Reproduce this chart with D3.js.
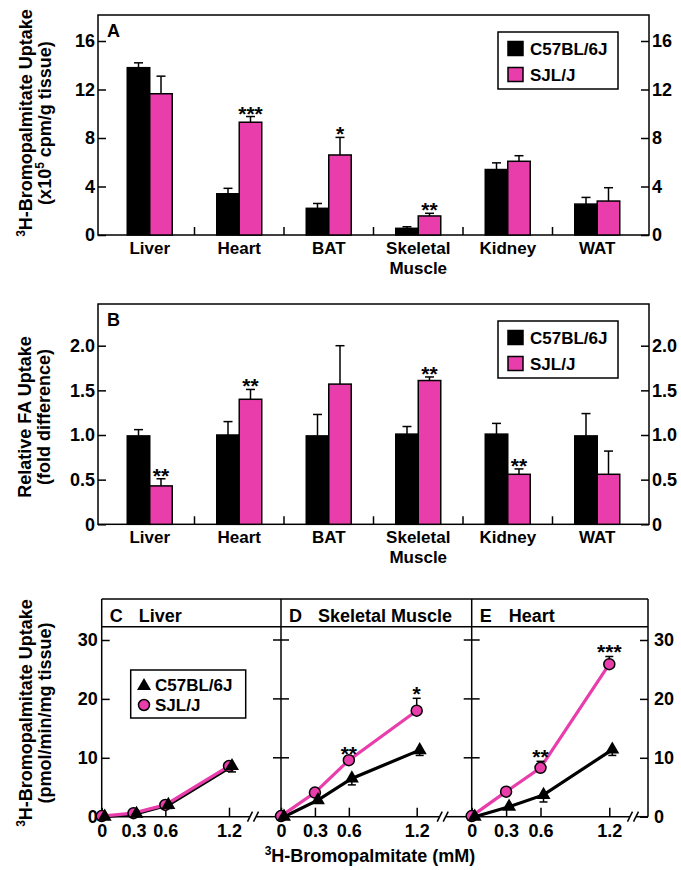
<!DOCTYPE html>
<html>
<head>
<meta charset="utf-8">
<script src="https://cdn.jsdelivr.net/npm/d3@7"></script>
<style>
  body { margin: 0; background: #fff; }
  svg text { font-family: "Liberation Sans", Arial, sans-serif; font-weight: bold; }
</style>
</head>
<body>
<div id="chart"></div>
<script>
// Data
const tissues = ["Liver", "Heart", "BAT", "Skeletal Muscle", "Kidney", "WAT"];
const strains = ["C57BL/6J", "SJL/J"];

// panel A: 3H-bromopalmitate uptake (x10^5 cpm/g tissue)
const uptakeB6 = [13.8, 3.4, 2.2, 0.55, 5.4, 2.55];
const uptakeB6Err = [0.4, 0.45, 0.4, 0.13, 0.55, 0.55];
const uptakeSJL = [11.65, 9.3, 6.6, 1.57, 6.08, 2.8];
const uptakeSJLErr = [1.45, 0.47, 1.45, 0.22, 0.46, 1.1];
const uptakeSig = ["", "***", "*", "**", "", ""];
const uptakeTicks = [0, 4, 8, 12, 16];

// panel B: relative FA uptake (fold difference)
const relB6 = [0.99, 1.0, 0.99, 1.01, 1.01, 0.99];
const relB6Err = [0.07, 0.15, 0.24, 0.085, 0.12, 0.25];
const relSJL = [0.43, 1.4, 1.57, 1.61, 0.56, 0.56];
const relSJLErr = [0.08, 0.11, 0.43, 0.04, 0.06, 0.26];
const relSig = ["**", "**", "", "**", "**", ""];
const relTicks = [0, 0.5, 1.0, 1.5, 2.0];

// panels C-E: dose response (pmol/min/mg tissue)
const doses = [0, 0.3, 0.6, 1.2];
const doseTissues = ["Liver", "Skeletal Muscle", "Heart"];
const doseLetters = ["C", "D", "E"];
const doseB6 = [[0, 0.5, 2.0, 8.6], [0, 2.8, 6.5, 11.3], [0, 1.7, 3.7, 11.4]];
const doseB6Err = [[0, 0.2, 0.6, 1.0], [0, 0.4, 1.1, 0.9], [0, 0.3, 1.2, 1.0]];
const doseSJL = [[0.1, 0.6, 2.0, 8.6], [0.1, 4.1, 9.6, 18.0], [0.1, 4.25, 8.3, 25.9]];
const doseSJLErr = [[0, 0.2, 0.5, 0.6], [0, 0.3, 0.4, 2.1], [0, 0.3, 1.1, 1.3]];
const doseSig = [["", "", "", ""], ["", "", "**", "*"], ["", "", "**", "***"]];
const doseTicks = [0, 10, 20, 30];

const PINK = "#e93dac";
const LW = 1.5;
const STAR = 21;

const svg = d3.select("#chart").append("svg")
  .attr("width", 681)
  .attr("height", 870);

// rotated two line y title, parts can be superscripts
function yTitle(cy, x1, x2, line1, line2) {
  [[x1, line1], [x2, line2]].forEach(([x, parts]) => {
    const t = svg.append("text")
      .attr("transform", `translate(${x},${cy}) rotate(-90)`)
      .attr("text-anchor", "middle")
      .attr("font-size", 18);
    let shift = 0;
    parts.forEach(p => {
      if (p.sup) {
        t.append("tspan").attr("font-size", 12).attr("dy", -7 - shift).text(p.sup);
        shift = -7;
      } else {
        t.append("tspan").attr("dy", -shift).text(p.t);
        shift = 0;
      }
    });
  });
}

function legendBars(bx, by) {
  svg.append("rect")
    .attr("x", bx).attr("y", by).attr("width", 120).attr("height", 57)
    .attr("fill", "#fff").attr("stroke", "#000").attr("stroke-width", LW);
  strains.forEach((s, i) => {
    svg.append("rect")
      .attr("x", bx + 10).attr("y", by + 9.5 + i * 26).attr("width", 15).attr("height", 14)
      .attr("fill", i ? PINK : "#000").attr("stroke", "#000").attr("stroke-width", LW);
    svg.append("text")
      .attr("x", bx + 32).attr("y", by + 23 + i * 26)
      .attr("font-size", 17).text(s);
  });
}

function barPanel(cfg) {
  const { top, bottom, tickTop, ticks, fmt, b6, b6Err, sjl, sjlErr, sig, letter } = cfg;
  const left = 98, right = 649;

  const x = d3.scaleBand().domain(tissues).range([105, 642]);
  const y = d3.scaleLinear().domain([0, d3.max(ticks)]).range([bottom, tickTop]);
  const bw = 22.5;

  // left / right axes, ticks pointing in
  const gl = svg.append("g").attr("transform", `translate(${left},0)`)
    .call(d3.axisLeft(y).tickValues(ticks).tickFormat(fmt).tickSizeInner(-8).tickSizeOuter(0))
    .attr("font-size", 18);
  const gr = svg.append("g").attr("transform", `translate(${right},0)`)
    .call(d3.axisRight(y).tickValues(ticks).tickFormat(fmt).tickSizeInner(-8).tickSizeOuter(0))
    .attr("font-size", 18);
  [gl, gr].forEach(g => {
    g.select(".domain").remove();
    g.selectAll("line").attr("stroke-width", LW);
  });

  // frame
  svg.append("rect")
    .attr("x", left).attr("y", top).attr("width", right - left).attr("height", bottom - top)
    .attr("fill", "none").attr("stroke", "#000").attr("stroke-width", LW);

  // separators between groups
  svg.selectAll(null).data(tissues.slice(1)).join("line")
    .attr("x1", d => x(d)).attr("x2", d => x(d))
    .attr("y1", bottom).attr("y2", bottom - 8)
    .attr("stroke", "#000").attr("stroke-width", LW);

  // category labels
  tissues.forEach(t => {
    const lines = t.split(" ");
    const txt = svg.append("text")
      .attr("text-anchor", "middle").attr("font-size", 17);
    lines.forEach((l, i) => {
      txt.append("tspan")
        .attr("x", x(t) + x.bandwidth() / 2)
        .attr("y", bottom + 19 + i * 19.5)
        .text(l);
    });
  });

  const rows = tissues.map((t, i) => ({ t, b6: b6[i], b6e: b6Err[i], sjl: sjl[i], sjle: sjlErr[i], sig: sig[i] }));
  const cx = d => x(d.t) + x.bandwidth() / 2;

  // error bars (up only)
  const err = [
    { v: d => d.b6, e: d => d.b6e, dx: -bw / 2 },
    { v: d => d.sjl, e: d => d.sjle, dx: bw / 2 }
  ];
  err.forEach(s => {
    svg.selectAll(null).data(rows).join("line")
      .attr("x1", d => cx(d) + s.dx).attr("x2", d => cx(d) + s.dx)
      .attr("y1", d => y(s.v(d))).attr("y2", d => y(s.v(d) + s.e(d)))
      .attr("stroke", "#000").attr("stroke-width", LW);
    svg.selectAll(null).data(rows).join("line")
      .attr("x1", d => cx(d) + s.dx - 4.5).attr("x2", d => cx(d) + s.dx + 4.5)
      .attr("y1", d => y(s.v(d) + s.e(d))).attr("y2", d => y(s.v(d) + s.e(d)))
      .attr("stroke", "#000").attr("stroke-width", LW);
  });

  svg.selectAll(null).data(rows).join("rect")
    .attr("x", d => cx(d) - bw).attr("y", d => y(d.b6))
    .attr("width", bw).attr("height", d => bottom - y(d.b6))
    .attr("fill", "#000").attr("stroke", "#000").attr("stroke-width", LW);
  svg.selectAll(null).data(rows).join("rect")
    .attr("x", d => cx(d)).attr("y", d => y(d.sjl))
    .attr("width", bw).attr("height", d => bottom - y(d.sjl))
    .attr("fill", PINK).attr("stroke", "#000").attr("stroke-width", LW);

  svg.selectAll(null).data(rows.filter(d => d.sig)).join("text")
    .attr("x", d => cx(d) + bw / 2).attr("y", d => y(d.sjl + d.sjle) + 4)
    .attr("text-anchor", "middle").attr("font-size", STAR)
    .text(d => d.sig);

  svg.append("text").attr("x", 107).attr("y", top + 22).attr("font-size", 18).text(letter);
  legendBars(498, top + 17);
}

// Panel A
barPanel({
  top: 15, bottom: 235, tickTop: 41, ticks: uptakeTicks, fmt: d3.format("d"),
  b6: uptakeB6, b6Err: uptakeB6Err, sjl: uptakeSJL, sjlErr: uptakeSJLErr, sig: uptakeSig, letter: "A"
});
yTitle(123, 32, 51,
  [{ sup: "3" }, { t: "H-Bromopalmitate Uptake" }],
  [{ t: "(x10" }, { sup: "5" }, { t: " cpm/g tissue)" }]);

// Panel B
barPanel({
  top: 304, bottom: 524.3, tickTop: 345.7, ticks: relTicks, fmt: d => d === 0 ? "0" : d3.format(".1f")(d),
  b6: relB6, b6Err: relB6Err, sjl: relSJL, sjlErr: relSJLErr, sig: relSig, letter: "B"
});
yTitle(417, 31, 50,
  [{ t: "Relative FA Uptake" }],
  [{ t: "(fold difference)" }]);

// Panels C-E
const top3 = 599, head3 = 626.7, bottom3 = 816.7;
const y3 = d3.scaleLinear().domain([0, 30]).range([bottom3, 640]);
const panelBox = [[101.7, 281, 229, 253], [281, 471.7, 416.7, 442.7], [471.7, 648, 609.3, 633]];

svg.append("line").attr("x1", 101.7).attr("x2", 648).attr("y1", top3).attr("y2", top3)
  .attr("stroke", "#000").attr("stroke-width", LW);
svg.append("line").attr("x1", 101.7).attr("x2", 648).attr("y1", head3).attr("y2", head3)
  .attr("stroke", "#000").attr("stroke-width", LW);

doseTissues.forEach((tissue, p) => {
  const [x0, x1, xEnd, brk] = panelBox[p];
  const x = d3.scaleLinear().domain([0, 1.2]).range([x0, xEnd]);

  // vertical border at left of each panel
  svg.append("line").attr("x1", x0).attr("x2", x0).attr("y1", top3).attr("y2", bottom3)
    .attr("stroke", "#000").attr("stroke-width", LW);

  // y ticks
  if (p === 0) {
    const g = svg.append("g").attr("transform", `translate(${x0},0)`)
      .call(d3.axisLeft(y3).tickValues(doseTicks).tickSizeInner(-8).tickSizeOuter(0).tickPadding(4))
      .attr("font-size", 18);
    g.select(".domain").remove();
    g.selectAll("line").attr("stroke-width", LW);
  } else {
    svg.selectAll(null).data(doseTicks.slice(1)).join("line")
      .attr("x1", x0 - 8).attr("x2", x0 + 8)
      .attr("y1", d => y3(d)).attr("y2", d => y3(d))
      .attr("stroke", "#000").attr("stroke-width", LW);
  }

  // x axis with break
  const gx = svg.append("g").attr("transform", `translate(0,${bottom3})`)
    .call(d3.axisBottom(x).tickValues(doses).tickFormat(d => d === 0 ? "0" : d3.format(".1f")(d))
      .tickSizeInner(-9).tickSizeOuter(0).tickPadding(8))
    .attr("font-size", 18);
  gx.select(".domain").remove();
  gx.selectAll("line").attr("stroke-width", LW);
  svg.append("line").attr("x1", x0).attr("x2", brk - 3).attr("y1", bottom3).attr("y2", bottom3)
    .attr("stroke", "#000").attr("stroke-width", LW);
  svg.append("line").attr("x1", brk + 3).attr("x2", x1).attr("y1", bottom3).attr("y2", bottom3)
    .attr("stroke", "#000").attr("stroke-width", LW);
  [-3, 3].forEach(o => {
    svg.append("line")
      .attr("x1", brk + o - 2.5).attr("y1", bottom3 + 5)
      .attr("x2", brk + o + 2.5).attr("y2", bottom3 - 5)
      .attr("stroke", "#000").attr("stroke-width", LW);
  });

  // header
  svg.append("text").attr("x", x0 + 8).attr("y", 621.5).attr("font-size", 18).text(doseLetters[p]);
  svg.append("text").attr("x", x0 + 37).attr("y", 621.5).attr("font-size", 18).text(tissue);

  const b6 = doses.map((d, i) => ({ d, v: doseB6[p][i], e: doseB6Err[p][i] }));
  const sjl = doses.map((d, i) => ({ d, v: doseSJL[p][i], e: doseSJLErr[p][i], s: doseSig[p][i] }));
  const off = 3;

  const line = dx => d3.line().x(d => x(d.d) + dx).y(d => y3(d.v));
  svg.append("path").datum(b6).attr("d", line(off))
    .attr("fill", "none").attr("stroke", "#000").attr("stroke-width", 3.2);
  svg.append("path").datum(sjl).attr("d", line(0))
    .attr("fill", "none").attr("stroke", PINK).attr("stroke-width", 3.2);

  // error bars: circles up, triangles down
  const whisk = (data, dx, sign) => {
    const e = data.filter(d => d.e > 0);
    svg.selectAll(null).data(e).join("line")
      .attr("x1", d => x(d.d) + dx).attr("x2", d => x(d.d) + dx)
      .attr("y1", d => y3(d.v)).attr("y2", d => y3(d.v + sign * d.e))
      .attr("stroke", "#000").attr("stroke-width", LW);
    svg.selectAll(null).data(e).join("line")
      .attr("x1", d => x(d.d) + dx - 4).attr("x2", d => x(d.d) + dx + 4)
      .attr("y1", d => y3(d.v + sign * d.e)).attr("y2", d => y3(d.v + sign * d.e))
      .attr("stroke", "#000").attr("stroke-width", LW);
  };
  whisk(sjl, 0, 1);
  whisk(b6, off, -1);

  svg.selectAll(null).data(sjl).join("circle")
    .attr("cx", d => x(d.d)).attr("cy", d => y3(d.v)).attr("r", 5.5)
    .attr("fill", PINK).attr("stroke", "#000").attr("stroke-width", LW);
  svg.selectAll(null).data(b6).join("path")
    .attr("d", d3.symbol(d3.symbolTriangle, 85))
    .attr("transform", d => `translate(${x(d.d) + off},${y3(d.v)})`)
    .attr("fill", "#000");

  svg.selectAll(null).data(sjl.filter(d => d.s)).join("text")
    .attr("x", d => x(d.d)).attr("y", d => y3(d.v + d.e) + 3)
    .attr("text-anchor", "middle").attr("font-size", STAR)
    .text(d => d.s);

  // right axis on last panel
  if (p === doseTissues.length - 1) {
    svg.append("line").attr("x1", x1).attr("x2", x1).attr("y1", top3).attr("y2", bottom3)
      .attr("stroke", "#000").attr("stroke-width", LW);
    const g = svg.append("g").attr("transform", `translate(${x1},0)`)
      .call(d3.axisRight(y3).tickValues(doseTicks).tickSizeInner(-8).tickSizeOuter(0).tickPadding(6))
      .attr("font-size", 18);
    g.select(".domain").remove();
    g.selectAll("line").attr("stroke-width", LW);
  }
});

// legend C
svg.append("rect").attr("x", 130.7).attr("y", 670).attr("width", 115).attr("height", 48)
  .attr("fill", "#fff").attr("stroke", "#000").attr("stroke-width", LW);
svg.append("path").attr("d", d3.symbol(d3.symbolTriangle, 85))
  .attr("transform", "translate(144,686)").attr("fill", "#000");
svg.append("circle").attr("cx", 144).attr("cy", 705).attr("r", 5.5)
  .attr("fill", PINK).attr("stroke", "#000").attr("stroke-width", LW);
strains.forEach((s, i) => {
  svg.append("text").attr("x", 155).attr("y", 691 + i * 20).attr("font-size", 17).text(s);
});

yTitle(713, 32, 51,
  [{ sup: "3" }, { t: "H-Bromopalmitate Uptake" }],
  [{ t: "(pmol/min/mg tissue)" }]);

const xt = svg.append("text").attr("x", 370).attr("y", 862)
  .attr("text-anchor", "middle").attr("font-size", 18);
xt.append("tspan").attr("font-size", 12).attr("dy", -7).text("3");
xt.append("tspan").attr("dy", 7).text("H-Bromopalmitate (mM)");
</script>
</body>
</html>
